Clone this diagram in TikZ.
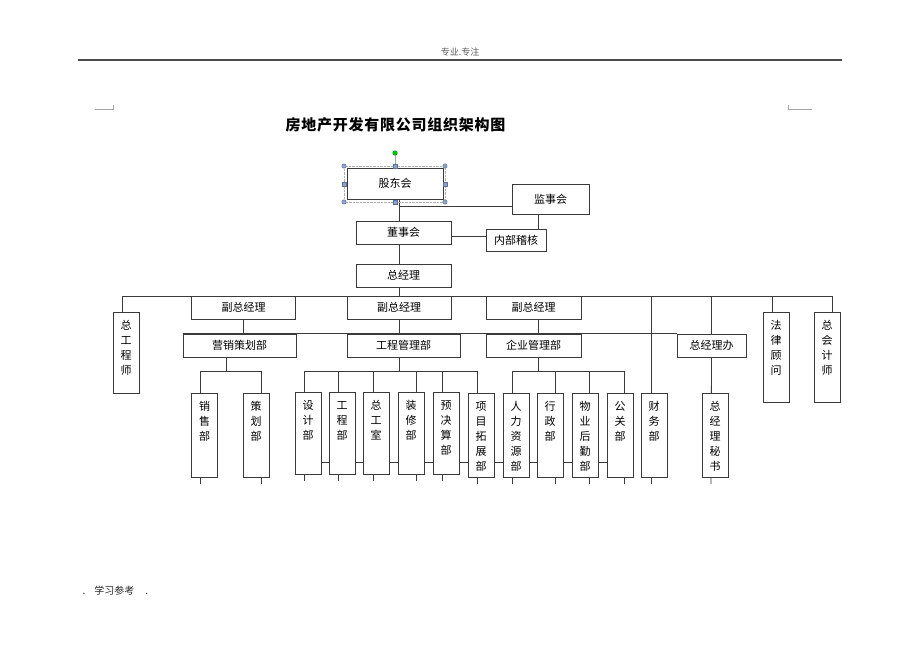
\documentclass[tikz,border=0pt]{standalone}
\usepackage{fontspec}
\setmainfont{Noto Sans CJK SC}
\newfontfamily\titlefont[LetterSpace=5]{Noto Sans CJK SC}
\usepackage{xcolor}
\usepackage{tikz}
\usetikzlibrary{positioning, backgrounds}
\definecolor{linec}{HTML}{3A3A3A}
\definecolor{handlefill}{HTML}{8EA3C9}
\definecolor{handleline}{HTML}{5A73A0}
\newcommand{\vcol}[2]{\parbox[c][#1][t]{20pt}{\centering\rule{0pt}{17pt}#2}}

\begin{document}
\begin{tikzpicture}[
				x=1pt, y=-1pt,
				box/.style={draw=linec, fill=white, line width=0.8pt, inner sep=0pt,
					font=\fontsize{11pt}{15pt}\selectfont},
				hbox/.style={box, minimum height=23pt},
				vbox/.style={box, anchor=north, minimum width=26pt},
				link/.style={draw=linec, line width=0.8pt},
				handle/.style={draw=handleline, fill=handlefill, line width=0.4pt}]

			\useasboundingbox (0,0) rectangle (920,651);

			% page header, title and footer
			\node[font=\fontsize{9pt}{10pt}\selectfont, text=gray!70!black] (header) at (460,52) {专业.专注};
			\draw[gray!60!black, line width=1.2pt] (78,60) -- (842,60);
			\draw[gray!70, line width=0.5pt] (95,109) -- (113,109) -- (113,105);
			\draw[gray!70, line width=0.5pt] (788,105) -- (788,109) -- (812,109);
			\node[font=\titlefont\bfseries\fontsize{15pt}{17pt}\selectfont] (title) at (395.5,125) {房地产开发有限公司组织架构图};
			\node[anchor=west, font=\fontsize{10pt}{11pt}\selectfont, text=gray!30!black] (footer) at (79,591) {.\hspace{9pt}学习参考\hspace{11pt}.};

			% top of the chart
			\node[box, minimum width=96pt, minimum height=31pt] (gudong) at (395,183.5) {股东会};
			\node[box, minimum width=77pt, minimum height=30pt] (jianshi) at (550.5,199) {监事会};
			\node[hbox, minimum width=95pt] (dongshi) at (403.5,232.5) {董事会};
			\node[box, minimum width=60pt, minimum height=22pt] (jihe) at (516,240) {内部稽核};
			\node[hbox, minimum width=95pt] (zongjl) at (403.5,275.5) {总经理};

			% selection handles round gudong
			\draw[gray!60, densely dotted, line width=0.4pt] (344,166) rectangle (445,202);
			\draw[gray!70, line width=0.5pt] (395,155) -- (395,166);
			\fill[green!75!black] (395,153) circle (2.6pt);
			\foreach \hx/\hy in {344/166, 445/166, 344/202, 445/202}
				\filldraw[handle] (\hx,\hy) circle (2.2pt);
			\foreach \hx/\hy in {395/166, 395/202, 344/184, 445/184}
				\filldraw[handle] (\hx-2,\hy-2) rectangle (\hx+2,\hy+2);

			% second level
			\node[hbox, minimum width=104pt] (fz1) at (243.7,307.5) {副总经理};
			\node[hbox, minimum width=104pt] (fz2) at (399,307.5) {副总经理};
			\node[hbox, minimum width=95pt] (fz3) at (533.5,307.5) {副总经理};
			\node[vbox] (zonggcs) at (126,312) {\vcol{81pt}{总\\工\\程\\师}};
			\node[vbox] (falv) at (776,312) {\vcol{90pt}{法\\律\\顾\\问}};
			\node[vbox] (zongkj) at (827,312) {\vcol{90pt}{总\\会\\计\\师}};

			\node[hbox, minimum width=113pt] (yingxiao) at (239.5,345.5) {营销策划部};
			\node[hbox, minimum width=113pt] (gongcheng) at (403.5,345.5) {工程管理部};
			\node[hbox, minimum width=95pt] (qiye) at (533.5,345.5) {企业管理部};
			\node[hbox, minimum width=69pt] (zjlb) at (711.5,345.5) {总经理办};

			% departments
			\node[vbox] (xiaoshou) at (204.5,393) {\vcol{84pt}{销\\售\\部}};
			\node[vbox] (cehua) at (256,393) {\vcol{84pt}{策\\划\\部}};
			\node[vbox] (sheji) at (308,392) {\vcol{82pt}{设\\计\\部}};
			\node[vbox] (gcb) at (342,392) {\vcol{82pt}{工\\程\\部}};
			\node[vbox] (zgs) at (376,392) {\vcol{82pt}{总\\工\\室}};
			\node[vbox] (zhuangxiu) at (411,392) {\vcol{82pt}{装\\修\\部}};
			\node[vbox] (yujs) at (446,392) {\vcol{82pt}{预\\决\\算\\部}};
			\node[vbox] (xmtz) at (481,393) {\vcol{84pt}{项\\目\\拓\\展\\部}};
			\node[vbox] (renli) at (516,393) {\vcol{84pt}{人\\力\\资\\源\\部}};
			\node[vbox] (xingzheng) at (550,393) {\vcol{84pt}{行\\政\\部}};
			\node[vbox] (wuye) at (585,393) {\vcol{84pt}{物\\业\\后\\勤\\部}};
			\node[vbox] (gongguan) at (620,393) {\vcol{84pt}{公\\关\\部}};
			\node[vbox] (caiwu) at (654,393) {\vcol{84pt}{财\\务\\部}};
			\node[vbox] (mishu) at (715,393) {\vcol{84pt}{总\\经\\理\\秘\\书}};

			\coordinate (spine) at (399,0);
			\coordinate (mainbus) at (0,296);
			\coordinate (subbus) at (0,371);
			\coordinate (crossline) at (0,462);

			\begin{scope}[on background layer]
				\draw[link] (gudong.south -| spine) -- (spine |- subbus);
				\draw[link] (spine |- 0,206) -- (jianshi.west |- 0,206);
				\draw[link] ([yshift=-3.5pt]dongshi.east) -- ([yshift=-3.5pt]dongshi.east -| jihe.west);
				\draw[link] ([xshift=-12.5pt]jianshi.south) -- ([xshift=-12.5pt]jianshi.south |- jihe.north);

				\draw[link] ([xshift=-4pt]zonggcs.north |- mainbus) -- ([xshift=5pt]zongkj.north |- mainbus);
				\foreach \n/\dx in {zonggcs/-4, falv/-4, zongkj/5}
					\draw[link] ([xshift=\dx pt]\n.north |- mainbus) -- ([xshift=\dx pt]\n.north);
				\draw[link] ([xshift=-3pt]caiwu.north |- mainbus) -- ([xshift=-3pt, yshift=-6pt]caiwu.south);
				\draw[link] (zjlb.north |- mainbus) -- (zjlb.north);

				\draw[link] (yingxiao.north west) -- (zjlb.north west);
				\draw[link] (fz1.south) -- (fz1.south |- yingxiao.north);
				\draw[link] ([xshift=4.5pt]fz3.south) -- ([xshift=4.5pt]fz3.south |- qiye.north);

				\draw[link] ([xshift=-13.5pt]yingxiao.south) -- ([xshift=-13.5pt]yingxiao.south |- subbus);
				\draw[link] ([xshift=4.5pt]qiye.south) -- ([xshift=4.5pt]qiye.south |- subbus);
				\draw[link] ([xshift=-4.5pt]xiaoshou.north |- subbus) -- ([xshift=5pt]cehua.north |- subbus);
				\draw[link] ([xshift=-4pt]sheji.north |- subbus) -- ([xshift=-4pt]xmtz.north |- subbus);
				\draw[link] ([xshift=-4pt]renli.north |- subbus) -- ([xshift=4pt]gongguan.north |- subbus);
				\draw[link] (zjlb.south) -- ([yshift=-6pt, xshift=-4pt]mishu.south);

				\foreach \n/\dx in {xiaoshou/-4.5, cehua/5, sheji/-4, gcb/-4, zgs/-3, zhuangxiu/5,
						yujs/-4, xmtz/-4, renli/-4, xingzheng/5, wuye/4, gongguan/4}
					\draw[link] ([xshift=\dx pt]\n.north |- subbus) -- ([xshift=\dx pt, yshift=-6pt]\n.south);

				\draw[link] (sheji.west |- crossline) -- (gongguan.west |- crossline);
			\end{scope}

		\end{tikzpicture}
\end{document}
